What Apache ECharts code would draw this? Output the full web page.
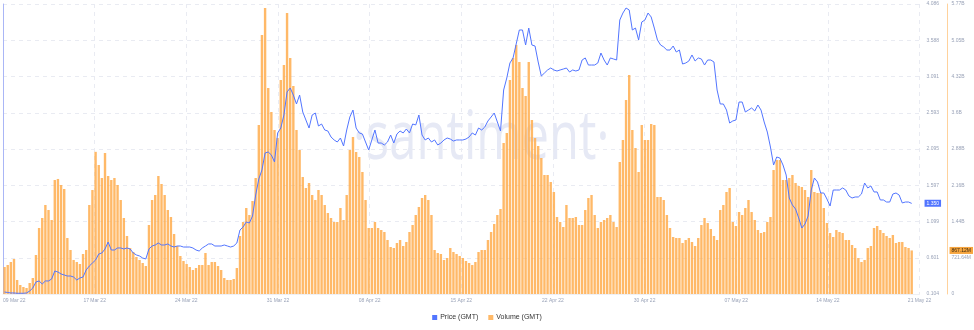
<!DOCTYPE html>
<html>
<head>
<meta charset="utf-8">
<title>GMT price and volume</title>
<script src="https://cdn.jsdelivr.net/npm/echarts@6/dist/echarts.min.js"></script>
<style>
  html, body { margin: 0; padding: 0; background: #ffffff; }
  #chart { width: 974px; height: 330px; }
</style>
</head>
<body>
<div id="chart"></div>
<script>
// 6-hourly samples from 09 Mar 22 to 21 May 22
const xTickLabels = ['09 Mar 22', '17 Mar 22', '24 Mar 22', '31 Mar 22', '08 Apr 22', '15 Apr 22',
  '22 Apr 22', '30 Apr 22', '07 May 22', '14 May 22', '21 May 22'];
const priceTickLabels = ['0.104', '0.601', '1.099', '1.597', '2.095', '2.593', '3.091', '3.588', '4.086'];
const volumeTickLabels = ['0', '721.64M', '1.44B', '2.16B', '2.88B', '3.6B', '4.32B', '5.05B', '5.77B'];

// Price (GMT), USD
const price = [
  0.131, 0.125, 0.118, 0.118, 0.114, 0.114, 0.114, 0.118, 0.145, 0.186,
  0.269, 0.283, 0.241, 0.283, 0.283, 0.310, 0.420, 0.406, 0.379, 0.365,
  0.351, 0.351, 0.337, 0.296, 0.324, 0.337, 0.434, 0.488, 0.530, 0.571,
  0.653, 0.667, 0.722, 0.818, 0.708, 0.708, 0.736, 0.736, 0.722, 0.736,
  0.722, 0.667, 0.640, 0.626, 0.598, 0.585, 0.722, 0.763, 0.777, 0.804,
  0.777, 0.777, 0.791, 0.763, 0.749, 0.763, 0.763, 0.749, 0.749, 0.749,
  0.736, 0.708, 0.694, 0.736, 0.763, 0.791, 0.791, 0.763, 0.763, 0.763,
  0.777, 0.763, 0.749, 0.763, 0.804, 0.983, 1.024, 1.093, 1.079, 1.175,
  1.463, 1.683, 1.807, 2.040, 2.054, 2.013, 1.917, 2.315, 2.383, 2.562,
  2.878, 2.933, 2.836, 2.713, 2.836, 2.603, 2.493, 2.383, 2.562, 2.589,
  2.411, 2.438, 2.356, 2.342, 2.260, 2.219, 2.191, 2.246, 2.136, 2.356,
  2.534, 2.630, 2.383, 2.315, 2.301, 2.191, 2.081, 2.219, 2.356, 2.177,
  2.177, 2.150, 2.191, 2.287, 2.177, 2.301, 2.342, 2.315, 2.370, 2.315,
  2.438, 2.425, 2.562, 2.287, 2.219, 2.246, 2.191, 2.219, 2.150, 2.177,
  2.219, 2.246, 2.232, 2.205, 2.219, 2.219, 2.219, 2.232, 2.260, 2.315,
  2.287, 2.383, 2.356, 2.397, 2.480, 2.534, 2.589, 2.466, 2.342, 2.905,
  3.070, 3.276, 3.345, 3.537, 3.729, 3.729, 3.523, 3.756, 3.523, 3.509,
  3.290, 3.097, 3.138, 3.180, 3.207, 3.180, 3.166, 3.180, 3.193, 3.207,
  3.152, 3.180, 3.166, 3.180, 3.317, 3.345, 3.248, 3.248, 3.248, 3.276,
  3.413, 3.317, 3.248, 3.345, 3.331, 3.317, 3.866, 3.962, 4.031, 4.004,
  3.729, 3.756, 3.592, 3.839, 3.866, 3.962, 3.908, 3.756, 3.592, 3.523,
  3.496, 3.454, 3.454, 3.509, 3.427, 3.454, 3.262, 3.276, 3.303, 3.386,
  3.303, 3.345, 3.331, 3.248, 3.317, 3.317, 3.290, 2.905, 2.713, 2.713,
  2.630, 2.452, 2.480, 2.493, 2.740, 2.740, 2.603, 2.630, 2.658, 2.617,
  2.699, 2.630, 2.466, 2.328, 2.122, 1.875, 1.985, 1.971, 1.875, 1.738,
  1.422, 1.326, 1.271, 1.148, 1.010, 1.065, 1.175, 1.532, 1.697, 1.642,
  1.491, 1.491, 1.408, 1.312, 1.532, 1.532, 1.532, 1.560, 1.532, 1.450,
  1.422, 1.436, 1.436, 1.477, 1.628, 1.560, 1.587, 1.505, 1.505, 1.395,
  1.395, 1.367, 1.367, 1.477, 1.491, 1.463, 1.354, 1.367, 1.367, 1.348
];

// Volume (GMT), millions
const volume = [
  537, 577, 637, 697, 279, 179, 139, 119, 219, 318,
  776, 1314, 1513, 1772, 1672, 1473, 2269, 2290, 2170, 2090,
  1115, 876, 677, 637, 597, 796, 876, 1772, 2070, 2830,
  2568, 2309, 2807, 2349, 2269, 2309, 2170, 1871, 1513, 1155,
  916, 836, 737, 677, 617, 557, 1374, 1871, 1971, 2349,
  2190, 1971, 1672, 1533, 1194, 956, 756, 657, 597, 537,
  478, 518, 577, 577, 816, 577, 637, 637, 557, 478,
  318, 279, 279, 299, 518, 1155, 1433, 1712, 1573, 1851,
  2309, 3364, 5156, 5693, 4101, 3623, 3265, 3105, 4260, 4559,
  5594, 4698, 4141, 3265, 2867, 2329, 2110, 2210, 1971, 1871,
  2070, 1971, 1772, 1612, 1513, 1433, 1433, 1712, 1473, 1971,
  2867, 3125, 2827, 2727, 2429, 1871, 1314, 1314, 1433, 1314,
  1274, 1234, 1075, 936, 916, 1015, 1075, 956, 1035, 1234,
  1374, 1573, 1732, 1911, 1971, 1871, 1573, 876, 816, 796,
  677, 717, 916, 836, 796, 756, 717, 657, 617, 577,
  637, 836, 876, 876, 1075, 1234, 1393, 1573, 1692, 3006,
  3205, 4260, 4698, 4957, 4618, 4101, 3942, 4618, 3464, 3105,
  2946, 2707, 2369, 2369, 2230, 2031, 1533, 1433, 1334, 1772,
  1513, 1513, 1533, 1374, 1374, 1672, 1911, 1971, 1573, 1314,
  1433, 1473, 1513, 1573, 1433, 1334, 2628, 3066, 3862, 4360,
  3265, 2906, 2429, 3364, 3066, 3066, 3384, 3364, 1931, 1931,
  1871, 1573, 1314, 1135, 1115, 1115, 1015, 1075, 1115, 1035,
  956, 1115, 1374, 1513, 1413, 1294, 1155, 1075, 1672, 1772,
  2031, 2110, 1433, 1354, 1632, 1573, 1712, 1871, 1632, 1473,
  1274, 1214, 1234, 1433, 1533, 2468, 2668, 2668, 2269, 2269,
  2309, 2369, 2210, 2150, 2130, 2070, 1931, 2468, 2031, 2011,
  2011, 1712, 1413, 1214, 1135, 1274, 1234, 1214, 1075, 1075,
  975, 916, 717, 637, 677, 916, 956, 1314, 1354, 1274,
  1214, 1155, 1115, 1175, 1015, 1035, 1035, 936, 916, 867.12
];

const STEPS = 292;               // 73 days in 6-hour steps
const X_INTERVAL = STEPS / 10;
const PRICE_MIN = 0.104, PRICE_MAX = 4.086;
const VOL_MAX = 5773.12;

const BLUE = '#5275ff';
const ORANGE = '#ffad4d';
const LABEL_GREY = '#9aa3b8';
const GRID_LINE = '#e9ebf2';
const HIDDEN = 'rgba(0,0,0,0)';

const priceData = price.map((p, i) => [i + 0.5, p]);
const volumeData = volume.map((v, i) => [i + 0.5, v]);

const tickIndex = (v, min, step) => Math.round((v - min) / step);

const chart = echarts.init(document.getElementById('chart'), null, { renderer: 'canvas' });

chart.setOption({
  animation: false,
  backgroundColor: '#ffffff',
  textStyle: { fontFamily: 'Liberation Sans, Arial, sans-serif' },
  grid: { left: 0, right: 54, top: 4, bottom: 36, containLabel: false },
  graphic: {
    elements: [{
      type: 'text',
      left: 353,
      top: 106,
      z: 0,
      silent: true,
      scaleX: 0.72,
      style: {
        text: '·santiment·',
        fill: '#e6e9f5',
        font: '400 68px "Open Sans", Lato, sans-serif'
      }
    }]
  },
  legend: {
    bottom: 4,
    left: 'center',
    itemWidth: 5,
    itemHeight: 5,
    itemGap: 10,
    icon: 'rect',
    textStyle: { fontSize: 7, color: '#333333', padding: [0, 0, 0, -2] },
    data: ['Price (GMT)', 'Volume (GMT)']
  },
  xAxis: {
    type: 'value',
    min: 0,
    max: STEPS,
    interval: X_INTERVAL,
    axisLine: { show: true, lineStyle: { color: '#eef0f5' } },
    axisTick: { show: false },
    splitLine: { show: true, lineStyle: { color: GRID_LINE, type: [4, 4] } },
    axisLabel: {
      fontSize: 5,
      color: LABEL_GREY,
      margin: 4,
      showMinLabel: true,
      showMaxLabel: true,
      alignMinLabel: 'left',
      formatter: v => xTickLabels[tickIndex(v, 0, X_INTERVAL)] || ''
    }
  },
  yAxis: [{
    type: 'value',
    position: 'right',
    offset: 3,
    min: PRICE_MIN,
    max: PRICE_MAX,
    interval: (PRICE_MAX - PRICE_MIN) / 8,
    axisLine: { show: true, lineStyle: { color: '#aab6f6', width: 1 } },
    axisTick: { show: false },
    splitLine: { show: true, lineStyle: { color: GRID_LINE, type: [4, 4] } },
    axisLabel: {
      fontSize: 5,
      color: LABEL_GREY,
      margin: 4,
      formatter: v => priceTickLabels[tickIndex(v, PRICE_MIN, (PRICE_MAX - PRICE_MIN) / 8)] || ''
    }
  }, {
    type: 'value',
    position: 'right',
    offset: 28,
    min: 0,
    max: VOL_MAX,
    interval: VOL_MAX / 8,
    axisLine: { show: true, lineStyle: { color: '#ffd29c', width: 1 } },
    axisTick: { show: false },
    splitLine: { show: false },
    axisLabel: {
      fontSize: 5,
      color: LABEL_GREY,
      margin: 4,
      formatter: v => volumeTickLabels[tickIndex(v, 0, VOL_MAX / 8)] || ''
    }
  }],
  series: [{
    name: 'Volume (GMT)',
    type: 'bar',
    yAxisIndex: 1,
    data: volumeData,
    barWidth: 2.4,
    itemStyle: { color: ORANGE, opacity: 0.85 },
    markLine: {
      silent: true,
      symbol: 'none',
      animation: false,
      lineStyle: { color: HIDDEN, width: 0 },
      data: [{ yAxis: volume[volume.length - 1] }],
      label: {
        show: true,
        position: 'end',
        distance: 30,
        formatter: p => Number(p.value).toFixed(2) + 'M',
        fontSize: 5,
        color: '#3a2a10',
        backgroundColor: '#f6a53f',
        padding: [1, 2, 1, 2]
      }
    }
  }, {
    name: 'Price (GMT)',
    type: 'line',
    yAxisIndex: 0,
    data: priceData,
    showSymbol: false,
    symbol: 'none',
    lineStyle: { color: BLUE, width: 1 },
    itemStyle: { color: BLUE },
    z: 5,
    markLine: {
      silent: true,
      symbol: 'none',
      animation: false,
      lineStyle: { color: HIDDEN, width: 0 },
      data: [{ yAxis: price[price.length - 1] }],
      label: {
        show: true,
        position: 'end',
        distance: 5,
        formatter: p => Number(p.value).toFixed(3),
        fontSize: 5,
        color: '#ffffff',
        backgroundColor: BLUE,
        padding: [1, 2, 1, 2]
      }
    }
  }]
});
</script>
</body>
</html>
